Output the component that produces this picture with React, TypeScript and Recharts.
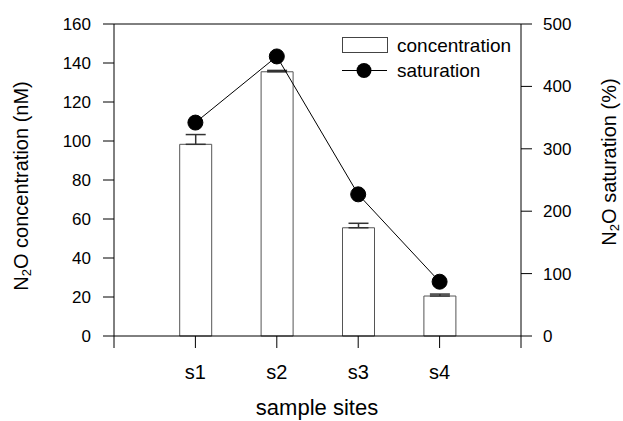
import React from 'react';
import {
  ComposedChart,
  Bar,
  Line,
  XAxis,
  YAxis,
  ErrorBar,
  ReferenceLine,
  Legend,
} from 'recharts';

const categories = ['s1', 's2', 's3', 's4'];
const concentration = [98.3, 135.5, 55.5, 20.5];
const concentrationErr = [5, 0.7, 2.3, 1];
const saturation = [342, 448, 227, 87];
const leftTicks = [0, 20, 40, 60, 80, 100, 120, 140, 160];
const rightTicks = [0, 100, 200, 300, 400, 500];
const xTicks = [0, 1, 2, 3, 4, 5];

const data = categories.map((c, i) => ({
  pos: i + 1,
  name: c,
  conc: concentration[i],
  err: [0, concentrationErr[i]],
  sat: saturation[i],
}));

const FONT = '"Liberation Sans", Arial, Helvetica, sans-serif';
const Y_FS = 17;
const X_FS = 20;
const TITLE_FS = 20;
const LEG_FS = 19;

const LegendContent = () => (
  <svg width={180} height={56} style={{ fontFamily: FONT, fontSize: LEG_FS, display: 'block' }}>
    <rect x={0.5} y={7.5} width={45} height={15} fill="#fff" stroke="#444" />
    <text x={55} y={21.5} fill="#000">concentration</text>
    <line x1={0} y1={40.5} x2={45} y2={40.5} stroke="#000" />
    <circle cx={22} cy={40.5} r={7.5} fill="#000" />
    <text x={55} y={47} fill="#000">saturation</text>
  </svg>
);

export default function App() {
  return (
    <div style={{ position: 'absolute', left: 0, top: 0 }}>
      <ComposedChart
        width={623}
        height={421}
        data={data}
        margin={{ top: 24, right: 0, bottom: 0, left: 0 }}
        style={{ fontFamily: FONT }}
      >
        <XAxis
          dataKey="pos"
          type="number"
          domain={[0, 5]}
          ticks={xTicks}
          tickFormatter={(v: number) => categories[v - 1] ?? ''}
          height={85}
          tickSize={12}
          tickMargin={17}
          stroke="#000"
          tick={{ fill: '#000', fontSize: X_FS, fontFamily: FONT }}
          label={{
            content: () => (
              <text
                x={317}
                y={415}
                textAnchor="middle"
                fontSize={22}
                fontFamily={FONT}
                fill="#000"
              >
                sample sites
              </text>
            ),
          }}
        />
        <YAxis
          yAxisId="left"
          domain={[0, 160]}
          ticks={leftTicks}
          width={114}
          tickSize={11}
          tickMargin={12}
          stroke="#000"
          interval={0}
          tick={{ fill: '#000', fontSize: Y_FS, fontFamily: FONT }}
          label={{
            content: () => (
              <text
                x={21}
                y={186}
                transform="rotate(-90 21 186)"
                textAnchor="middle"
                dominantBaseline="central"
                fontSize={TITLE_FS}
                fontFamily={FONT}
                fill="#000"
              >
                N<tspan fontSize={13} dy={5}>2</tspan>
                <tspan dy={-5}>O concentration (nM)</tspan>
              </text>
            ),
          }}
        />
        <YAxis
          yAxisId="right"
          orientation="right"
          domain={[0, 500]}
          ticks={rightTicks}
          width={102}
          tickSize={11}
          tickMargin={11}
          stroke="#000"
          interval={0}
          tick={{ fill: '#000', fontSize: Y_FS, fontFamily: FONT }}
          label={{
            content: () => (
              <text
                x={609}
                y={162}
                transform="rotate(-90 609 162)"
                textAnchor="middle"
                dominantBaseline="central"
                fontSize={TITLE_FS}
                fontFamily={FONT}
                fill="#000"
              >
                N<tspan fontSize={13} dy={5}>2</tspan>
                <tspan dy={-5}>O saturation (%)</tspan>
              </text>
            ),
          }}
        />
        <ReferenceLine yAxisId="left" y={160} stroke="#000" />
        <Legend
          layout="horizontal"
          verticalAlign="middle"
          align="center"
          content={<LegendContent />}
          wrapperStyle={{ position: 'absolute', left: 342, top: 30, width: 180, height: 56 }}
        />
        <Bar
          yAxisId="left"
          dataKey="conc"
          barSize={32}
          fill="#fff"
          stroke="#555"
          isAnimationActive={false}
        >
          <ErrorBar dataKey="err" direction="y" width={10} stroke="#333" />
        </Bar>
        <Line
          yAxisId="right"
          dataKey="sat"
          stroke="#000"
          strokeWidth={1}
          dot={{ r: 7.5, fill: '#000', stroke: '#000' }}
          activeDot={false}
          isAnimationActive={false}
        />
      </ComposedChart>
    </div>
  );
}
